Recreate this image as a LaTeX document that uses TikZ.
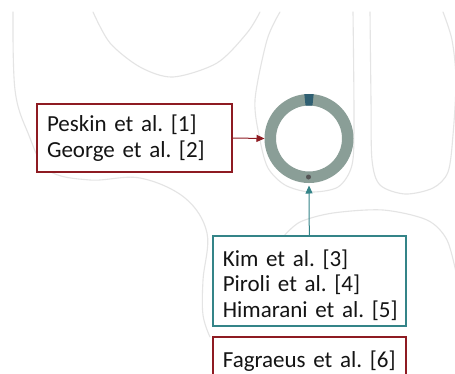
\documentclass[tikz,border=0pt]{standalone}
\usepackage{fontspec}
\setmainfont{Carlito}
\usetikzlibrary{arrows.meta}
\definecolor{refred}{RGB}{142,27,34}
\definecolor{refteal}{RGB}{52,132,136}
\definecolor{ringgray}{RGB}{138,158,151}
\definecolor{ringseg}{RGB}{47,95,114}
\definecolor{dotgray}{RGB}{85,85,85}
\definecolor{outline}{RGB}{228,228,228}
\definecolor{txt}{RGB}{20,20,20}
\begin{document}
\frenchspacing
\begin{tikzpicture}[x=1pt,y=-1pt,
  refbox/.style={draw, line width=2pt, fill=white, align=left, text=txt,
    inner xsep=10pt, font=\fontsize{23}{25.5}\selectfont},
  sketch/.style={draw=outline, line width=1.1pt, line cap=round},
  link/.style={line width=1pt, -{Triangle[length=8pt,width=7pt]}}]
\useasboundingbox (0,0) rectangle (455,373);
\clip (0,0) rectangle (455,373);
\fill[white] (0,0) rectangle (455,373);

% faint anatomical outline in the background
\draw[sketch] plot[smooth, tension=0.6] coordinates {(13,12) (15,90) (28,133) (48,170) (90,180) (140,178) (185,198) (207,233) (203,280) (203,315) (210,337)};
\draw[sketch] plot[smooth] coordinates {(93,12) (110,43) (140,67) (173,77) (217,63) (247,33) (260,12)};
\draw[sketch] plot[smooth] coordinates {(280,12) (267,40) (255,100) (260,140) (268,168) (285,185) (310,192) (338,187) (352,165) (354,120) (353,12)};
\draw[sketch] plot[smooth] coordinates {(370,12) (371,100) (372,160) (380,185) (405,194) (433,188) (448,172) (453,135) (456,80) (452,40) (443,12)};
\draw[sketch] plot[smooth] coordinates {(283,237) (300,222) (333,213) (383,210) (427,220) (447,240) (457,277)};

% ring with its marker segment and dot
\node[circle, draw=ringgray, line width=11.5pt, minimum size=77.5pt, inner sep=0pt] (ring) at (309,138.5) {};
\fill[ringseg] (ring.center) ++(-96:44.5) arc[start angle=-96, end angle=-84, radius=44.5]
  -- ++(96:11.5) arc[start angle=-84, end angle=-96, radius=33] -- cycle;
\node[circle, fill=dotgray, inner sep=0pt, minimum size=5pt] (dot) at (308.5,177) {};

% reference boxes
\node[refbox, draw=refred, text width=175pt, minimum height=68pt] (peskin) at (134.5,138)
  {\mbox{Peskin et al. [1]}\\\mbox{George et al. [2]}};
\node[refbox, draw=refteal, text width=173pt, inner xsep=9.7pt, minimum height=90pt] (kim) at (309.3,281)
  {\mbox{\rule{0pt}{25pt}Kim et al. [3]}\\\mbox{Piroli et al. [4]}\\\mbox{Himarani et al. [5]}};
\node[refbox, draw=refred, text width=173pt, inner xsep=9.7pt, minimum height=48pt] (fag) at (309.3,360.7)
  {\mbox{Fagraeus et al. [6]}};

% connectors
\draw[link, refred] (peskin.east) -- (ring.west);
\draw[link, refteal, shorten >=2.5pt] (kim.north) -- (ring.south);
\end{tikzpicture}
\end{document}
